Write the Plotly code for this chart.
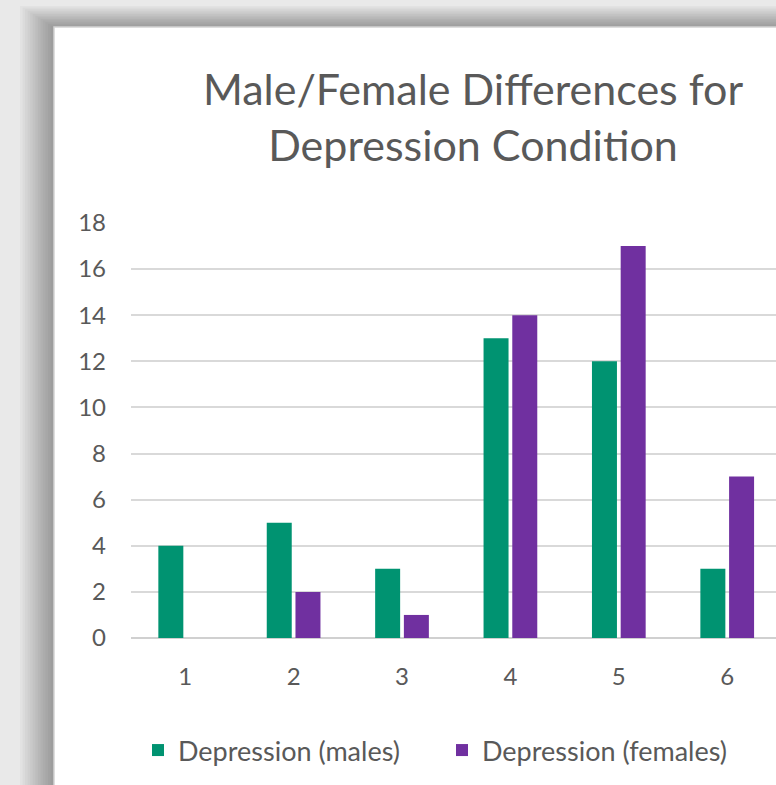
import plotly.graph_objects as go

# Survey counts per condition level
levels = [1, 2, 3, 4, 5, 6]
tick_labels = ["1", "2", "3", "4", "5", "6"]
males = [4, 5, 3, 13, 12, 3]
females = [0, 2, 1, 14, 17, 7]

W, H = 776, 785
L, R, T, B = 131, 776, 222, 638  # plot area in pixels

GREEN = "#009371"
PURPLE = "#7030A0"
TEXT = "#595959"
FONT = "Lato, 'Open Sans', sans-serif"


def px_x(px):
    return (px - L) / (R - L)


def px_y(py):
    return (B - py) / (B - T)


fig = go.Figure()
fig.add_trace(go.Bar(x=levels, y=males, name="Depression (males)",
                     marker=dict(color=GREEN, line=dict(width=0))))
fig.add_trace(go.Bar(x=levels, y=females, name="Depression (females)",
                     marker=dict(color=PURPLE, line=dict(width=0))))

# Drop shadow behind the chart panel, built from stacked translucent layers
shapes = []
n = 14
for i in range(n):
    t = i / (n - 1)
    left = 20 + 33 * t
    top = 6 + 21 * t
    shapes.append(dict(type="rect", xref="paper", yref="paper", layer="below",
                       x0=px_x(left), x1=px_x(W + 40), y0=px_y(top), y1=px_y(H + 40),
                       fillcolor="rgba(0,0,0,0.027)", line=dict(width=0)))
# White chart panel
shapes.append(dict(type="rect", xref="paper", yref="paper", layer="below",
                   x0=px_x(54), x1=px_x(W + 40), y0=px_y(27), y1=px_y(H + 40),
                   fillcolor="white", line=dict(color="#d4d4d4", width=1.5)))

fig.update_layout(
    width=W, height=H,
    margin=dict(l=L, r=W - R, t=T, b=H - B, pad=0),
    paper_bgcolor="#e9e9e9",
    plot_bgcolor="rgba(0,0,0,0)",
    barmode="group",
    bargap=0.47,
    bargroupgap=0.13,
    font=dict(family=FONT, color=TEXT),
    title=dict(text="Male/Female Differences for<br>Depression Condition",
               x=473 / W, xref="container", xanchor="center",
               y=1 - 105 / H, yref="container", yanchor="top",
               font=dict(family=FONT, size=43, color=TEXT)),
    xaxis=dict(range=[0.5, 6.45], tickmode="array", tickvals=levels, ticktext=tick_labels,
               showgrid=False, zeroline=False, showline=False,
               ticks="", ticklabelstandoff=22,
               tickfont=dict(size=24, color=TEXT)),
    yaxis=dict(range=[0, 18.04], dtick=2, tick0=0,
               showgrid=True, gridcolor="#d9d9d9", gridwidth=2,
               zeroline=True, zerolinecolor="#d0d0d0", zerolinewidth=2,
               showline=False, ticks="", ticklabelstandoff=24,
               tickfont=dict(size=24, color=TEXT)),
    legend=dict(orientation="h", x=px_x(138), y=px_y(726), xanchor="left", yanchor="top",
                bgcolor="rgba(0,0,0,0)", borderwidth=0,
                entrywidth=259, entrywidthmode="pixels",
                font=dict(family=FONT, size=27, color=TEXT)),
    shapes=shapes,
    showlegend=True,
)

fig.write_html("out.html")
